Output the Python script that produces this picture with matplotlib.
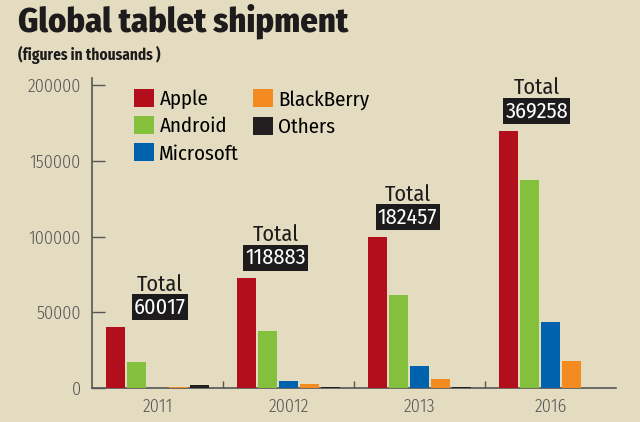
import numpy as np
import matplotlib.pyplot as plt
from matplotlib.patches import Patch

# Data (thousands of units)
years = ["2011", "20012", "2013", "2016"]
apple = [40000, 72800, 99500, 169600]
android = [17200, 37600, 61400, 137700]
microsoft = [300, 4600, 14500, 43600]
blackberry = [700, 2600, 5900, 17800]
others = [1800, 700, 500, 300]
totals = ["60017", "118883", "182457", "369258"]

series = [("Apple", apple, "#b20e1b"),
          ("Android", android, "#84c03c"),
          ("Microsoft", microsoft, "#0062ac"),
          ("BlackBerry", blackberry, "#f38b20"),
          ("Others", others, "#231f20")]

BG = "#e3dcc0"
GREY = "#555555"
FONT = ["Fira Sans Condensed", "PT Sans Narrow", "DejaVu Sans"]
plt.rcParams['font.family'] = FONT

fig = plt.figure(figsize=(6.4, 4.22), dpi=100, facecolor=BG)
ax = fig.add_axes([0.1438, 0.0806, 0.8187, 0.734], facecolor=BG)

x = np.arange(len(years))
width = 0.145
step = 0.16
for i, (name, vals, color) in enumerate(series):
    ax.bar(x + (i - 2) * step, vals, width=width, color=color, label=name,
           zorder=3)

# "Total" labels above the Apple bar of each year
label_shift = [0.02, -0.10, -0.09, -0.105]
for i, tot in enumerate(totals):
    xl = x[i] + label_shift[i]
    ax.annotate(tot, (xl, apple[i]), xytext=(0, 14.5), textcoords="offset points",
                ha="center", va="center", color="white", fontsize=16,
                bbox=dict(boxstyle="square,pad=0.1", fc="#1e1b1c", ec="none"))
    ax.annotate("Total", (xl, apple[i]), xytext=(0, 31), textcoords="offset points",
                ha="center", va="center", color="#1e1b1c", fontsize=16)

ax.set_xlim(-0.5, 3.5)
ax.set_ylim(0, 204600)
ax.set_yticks([0, 50000, 100000, 150000, 200000])
ax.set_xticks(x)
ax.set_xticklabels(years)
ax.set_xticks([0.5, 1.5, 2.5], minor=True)

ax.tick_params(axis="y", direction="in", length=9, width=1, color=GREY,
               labelcolor=GREY, labelsize=13, pad=8)
ax.tick_params(axis="x", which="major", length=0, labelcolor=GREY,
               labelsize=13, pad=7)
ax.tick_params(axis="x", which="minor", direction="in", length=5, width=1,
               color=GREY)
for lbl in ax.get_xticklabels() + ax.get_yticklabels():
    lbl.set_fontweight(300)

for side in ["top", "right"]:
    ax.spines[side].set_visible(False)
for side in ["left", "bottom"]:
    ax.spines[side].set_color(GREY)
    ax.spines[side].set_linewidth(1.2)

handles = [Patch(facecolor=c, label=n) for n, _, c in series]
ax.legend(handles=handles, ncol=2, loc="upper left",
          bbox_to_anchor=(0.045, 1.025), frameon=False,
          prop={"size": 15}, handlelength=0.95,
          handleheight=0.95, handletextpad=0.25, columnspacing=0.65,
          labelspacing=0.33)

fig.text(0.028, 0.925, "Global tablet shipment", fontweight=800,
         fontsize=24.7, color="#1e1b1c", va="baseline")
fig.text(0.028, 0.858, "(figures in thousands )", fontweight="bold",
         fontsize=11, color="#1e1b1c", va="baseline")

fig.savefig("out.png", dpi=100, facecolor=BG)
